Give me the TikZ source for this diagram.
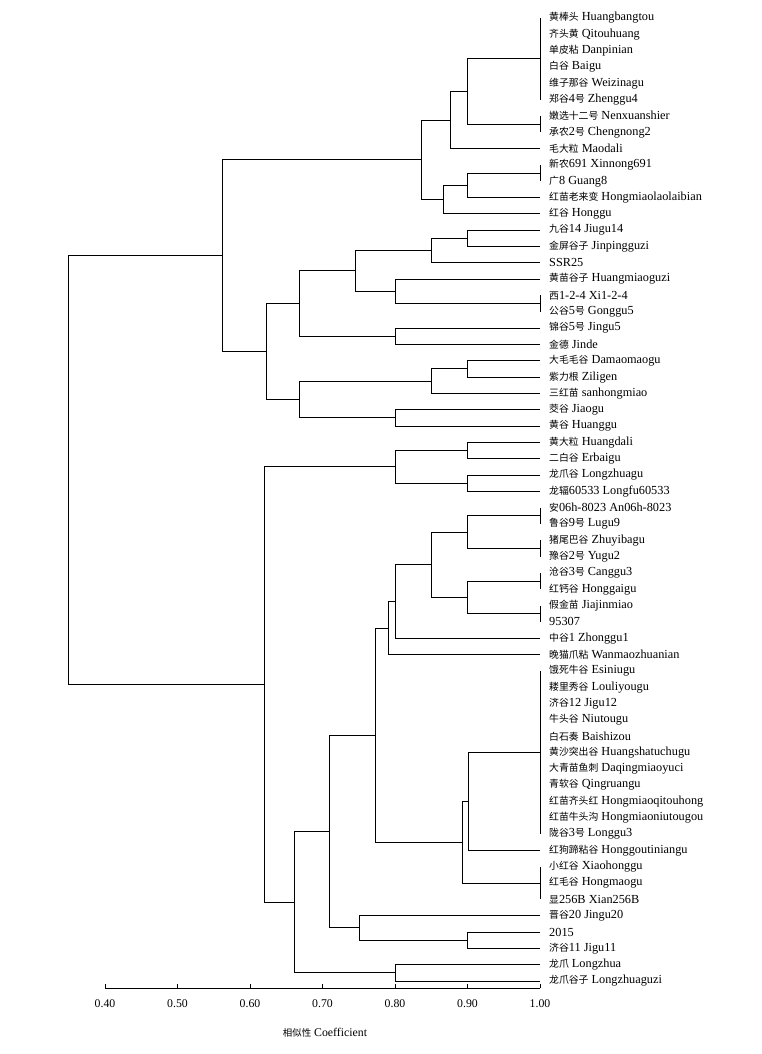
\documentclass[tikz,border=0pt]{standalone}
\usepackage{fontspec}
\setmainfont{Liberation Serif}
\newfontfamily\cjkfont[Scale=0.8]{Noto Sans CJK SC}
\usetikzlibrary{calc}
\newcommand\zh[1]{{\cjkfont #1}}
\newcommand\mkint[4]{\path let \p1=(#2), \p2=(#3) in coordinate (#1) at ({#4pt},{0.5*(\y1+\y2)});}
\newcommand\brjoin[3]{\draw[branch] (#2) -- (#2 -| #1) -- (#3 -| #1) -- (#3);}
\newcommand\dtjoin[4]{\mkint{#1}{#2}{#3}{#4}\brjoin{#1}{#2}{#3}}
\newcommand\dtgrp[3]{\mkint{#1}{#2}{#3}{540}\draw[branch] (#2) -- (#3);}
\newcommand\leaf[2]{\node[lbl] (t#1) at ([xshift=9pt]l#1) {#2};}
\begin{document}
\begin{tikzpicture}[x=1pt,y=-1pt,
  branch/.style={line width=1pt, black},
  lbl/.style={anchor=west, inner sep=0pt, font=\fontsize{12.3}{14}\selectfont},
  ticklbl/.style={inner sep=0pt, font=\fontsize{11.8}{14}\selectfont}]
\useasboundingbox (0,0) rectangle (761,1054);
\foreach \i in {1,...,60}{\coordinate (l\i) at (540,{18+(\i-1)*16.322});}
% upper cluster
\dtgrp{g1}{l1}{l6}
\dtgrp{g2}{l7}{l8}
\dtjoin{n1}{g1}{g2}{467.5}
\dtjoin{n2}{n1}{l9}{450}
\dtgrp{g3}{l10}{l11}
\dtjoin{n3}{g3}{l12}{467.5}
\dtjoin{n4}{n3}{l13}{443}
\dtjoin{n5}{n2}{n4}{421}
\dtjoin{n6}{l14}{l15}{467.5}
\dtjoin{n7}{n6}{l16}{431}
\dtgrp{g4}{l18}{l19}
\dtjoin{n8}{l17}{g4}{395}
\dtjoin{n9}{n7}{n8}{355}
\dtjoin{n10}{l20}{l21}{395}
\dtjoin{n11}{n9}{n10}{299}
\dtjoin{n12}{l22}{l23}{467.5}
\dtjoin{n13}{n12}{l24}{431}
\dtjoin{n14}{l25}{l26}{395}
\dtjoin{n15}{n13}{n14}{299}
\dtjoin{n16}{n11}{n15}{266}
\dtjoin{n17}{n5}{n16}{222}
% lower cluster
\dtjoin{n18}{l27}{l28}{467.5}
\dtjoin{n19}{l29}{l30}{467.5}
\dtjoin{n20}{n18}{n19}{395}
\dtgrp{g5}{l31}{l32}
\dtgrp{g6}{l33}{l34}
\dtjoin{n21}{g5}{g6}{467.5}
\dtgrp{g7}{l35}{l36}
\dtgrp{g8}{l37}{l38}
\dtjoin{n22}{g7}{g8}{467.5}
\dtjoin{n23}{n21}{n22}{431}
\dtjoin{n24}{n23}{l39}{395}
\dtjoin{n25}{n24}{l40}{388}
\dtgrp{g9}{l41}{l51}
\dtjoin{n26}{g9}{l52}{468.5}
\dtgrp{g10}{l53}{l55}
\dtjoin{n27}{n26}{g10}{462}
\dtjoin{n28}{n25}{n27}{375}
\dtjoin{n29}{l57}{l58}{467.5}
\dtjoin{n30}{l56}{n29}{359}
\dtjoin{n31}{n28}{n30}{329}
\dtjoin{n32}{l59}{l60}{395}
\dtjoin{n33}{n31}{n32}{294}
\dtjoin{n34}{n20}{n33}{264}
\dtjoin{root}{n17}{n34}{68}
% labels
\leaf{1}{\zh{黄棒头} Huangbangtou}
\leaf{2}{\zh{齐头黄} Qitouhuang}
\leaf{3}{\zh{单皮粘} Danpinian}
\leaf{4}{\zh{白谷} Baigu}
\leaf{5}{\zh{维子那谷} Weizinagu}
\leaf{6}{\zh{郑谷}4\zh{号} Zhenggu4}
\leaf{7}{\zh{嫩选十二号} Nenxuanshier}
\leaf{8}{\zh{承农}2\zh{号} Chengnong2}
\leaf{9}{\zh{毛大粒} Maodali}
\leaf{10}{\zh{新农}691 Xinnong691}
\leaf{11}{\zh{广}8 Guang8}
\leaf{12}{\zh{红苗老来变} Hongmiaolaolaibian}
\leaf{13}{\zh{红谷} Honggu}
\leaf{14}{\zh{九谷}14 Jiugu14}
\leaf{15}{\zh{金屏谷子} Jinpingguzi}
\leaf{16}{SSR25}
\leaf{17}{\zh{黄苗谷子} Huangmiaoguzi}
\leaf{18}{\zh{西}1-2-4 Xi1-2-4}
\leaf{19}{\zh{公谷}5\zh{号} Gonggu5}
\leaf{20}{\zh{锦谷}5\zh{号} Jingu5}
\leaf{21}{\zh{金德} Jinde}
\leaf{22}{\zh{大毛毛谷} Damaomaogu}
\leaf{23}{\zh{紫力根} Ziligen}
\leaf{24}{\zh{三红苗} sanhongmiao}
\leaf{25}{\zh{茭谷} Jiaogu}
\leaf{26}{\zh{黄谷} Huanggu}
\leaf{27}{\zh{黄大粒} Huangdali}
\leaf{28}{\zh{二白谷} Erbaigu}
\leaf{29}{\zh{龙爪谷} Longzhuagu}
\leaf{30}{\zh{龙辐}60533 Longfu60533}
\leaf{31}{\zh{安}06h-8023 An06h-8023}
\leaf{32}{\zh{鲁谷}9\zh{号} Lugu9}
\leaf{33}{\zh{猪尾巴谷} Zhuyibagu}
\leaf{34}{\zh{豫谷}2\zh{号} Yugu2}
\leaf{35}{\zh{沧谷}3\zh{号} Canggu3}
\leaf{36}{\zh{红钙谷} Honggaigu}
\leaf{37}{\zh{假金苗} Jiajinmiao}
\leaf{38}{95307}
\leaf{39}{\zh{中谷}1 Zhonggu1}
\leaf{40}{\zh{晚猫爪粘} Wanmaozhuanian}
\leaf{41}{\zh{饿死牛谷} Esiniugu}
\leaf{42}{\zh{耧里秀谷} Louliyougu}
\leaf{43}{\zh{济谷}12 Jigu12}
\leaf{44}{\zh{牛头谷} Niutougu}
\leaf{45}{\zh{白石奏} Baishizou}
\leaf{46}{\zh{黄沙突出谷} Huangshatuchugu}
\leaf{47}{\zh{大青苗鱼刺} Daqingmiaoyuci}
\leaf{48}{\zh{青软谷} Qingruangu}
\leaf{49}{\zh{红苗齐头红} Hongmiaoqitouhong}
\leaf{50}{\zh{红苗牛头沟} Hongmiaoniutougou}
\leaf{51}{\zh{陇谷}3\zh{号} Longgu3}
\leaf{52}{\zh{红狗蹄粘谷} Honggoutiniangu}
\leaf{53}{\zh{小红谷} Xiaohonggu}
\leaf{54}{\zh{红毛谷} Hongmaogu}
\leaf{55}{\zh{显}256B Xian256B}
\leaf{56}{\zh{晋谷}20 Jingu20}
\leaf{57}{2015}
\leaf{58}{\zh{济谷}11 Jigu11}
\leaf{59}{\zh{龙爪} Longzhua}
\leaf{60}{\zh{龙爪谷子} Longzhuaguzi}
% axis
\coordinate (ax0) at (105,988);
\coordinate (ax1) at (540,988);
\draw[branch] (ax0) -- (ax1);
\foreach \k/\v in {0/0.40,1/0.50,2/0.60,3/0.70,4/0.80,5/0.90,6/1.00}{
  \coordinate (tk\k) at ({105+72.5*\k},988);
  \draw[branch] (tk\k) -- ++(0,-4);
  \node[ticklbl] (tl\k) at ([yshift=-16pt]tk\k) {\v};
}
\node[ticklbl] (axtitle) at (325,1033) {\zh{相似性} Coefficient};
\end{tikzpicture}
\end{document}
